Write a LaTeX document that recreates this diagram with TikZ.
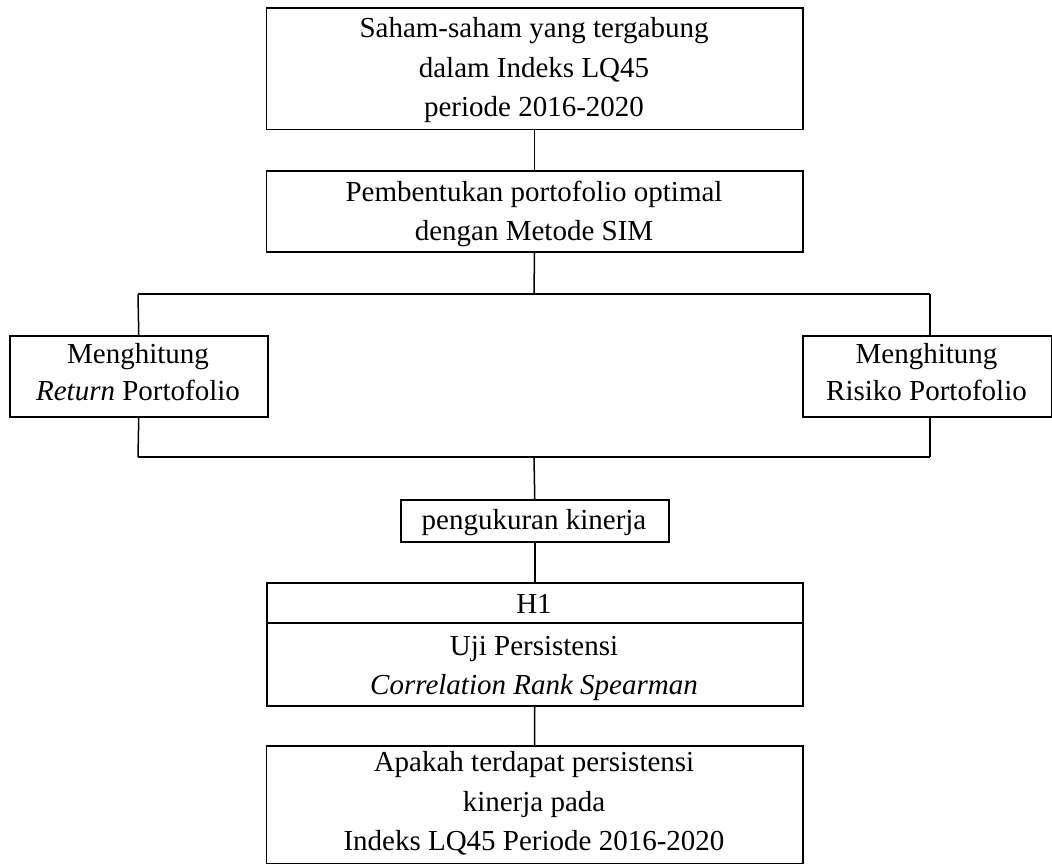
\documentclass[tikz,border=0pt]{standalone}
\usepackage{fontspec}
\setmainfont{Liberation Serif}
\begin{document}
\begin{tikzpicture}[x=1pt,y=-1pt,line width=1.5pt,
  box/.style={draw,line width=1.5pt,inner sep=0pt,anchor=north west},
  ln/.style={anchor=base,inner sep=0pt,font=\fontsize{29}{34}\selectfont},
  conn/.style={draw,line width=1.5pt}]
\useasboundingbox (0,0) rectangle (1052,864);
% boxes
\node[box,minimum width=536.5pt,minimum height=121.5pt] (b1) at (265.5,7.5) {};
\node[box,minimum width=536.5pt,minimum height=81pt] (b2) at (265.5,170) {};
\node[box,minimum width=258pt,minimum height=81pt] (L) at (9,335) {};
\node[box,minimum width=249pt,minimum height=81pt] (R) at (802,335) {};
\node[box,minimum width=268pt,minimum height=42pt] (P) at (400,499) {};
\node[box,minimum width=536pt,minimum height=123pt] (H) at (266,582) {};
\node[box,minimum width=536.5pt,minimum height=117.5pt] (F) at (265.5,745) {};
\coordinate (Hdl) at (266,623);
\coordinate (Hdr) at (802,623);
\draw[conn] (Hdl) -- (Hdr);
% texts
\node[ln] (t1a) at (534,38) {Saham-saham yang tergabung};
\node[ln] (t1b) at (534,77.5) {dalam Indeks LQ45};
\node[ln] (t1c) at (534,117) {periode 2016-2020};
\node[ln] (t2a) at (534,201) {Pembentukan portofolio optimal};
\node[ln] (t2b) at (534,240) {dengan Metode SIM};
\node[ln] (tLa) at (138,363.5) {Menghitung};
\node[ln] (tLb) at (138,400.5) {\textit{Return} Portofolio};
\node[ln] (tRa) at (926.5,363.5) {Menghitung};
\node[ln] (tRb) at (926.5,400.5) {Risiko Portofolio};
\node[ln] (tP) at (534,529) {pengukuran kinerja};
\node[ln] (tHa) at (534,613) {H1};
\node[ln] (tHb) at (534,655) {Uji Persistensi};
\node[ln] (tHc) at (534,694) {\textit{Correlation Rank Spearman}};
\node[ln] (tFa) at (534,771.5) {Apakah terdapat persistensi};
\node[ln] (tFb) at (534,811) {kinerja pada};
\node[ln] (tFc) at (534,850.5) {Indeks LQ45 Periode 2016-2020};
% connectors
\coordinate (s1) at (534,294);
\coordinate (s1l) at (138,294);
\coordinate (s1r) at (930,294);
\coordinate (rTop) at (930,335);
\coordinate (rBot) at (930,416);
\coordinate (s2) at (534,457);
\coordinate (s2l) at (138,457);
\coordinate (s2r) at (930,457);
\draw[conn] (b1.south) -- (b2.north);
\draw[conn] (b2.south) -- (s1);
\draw[conn] (s1l) -- (s1r);
\draw[conn] (s1l) -- (L.north);
\draw[conn] (s1r) -- (rTop);
\draw[conn] (L.south) -- (s2l);
\draw[conn] (rBot) -- (s2r);
\draw[conn] (s2l) -- (s2r);
\draw[conn] (s2) -- (P.north);
\draw[conn] (P.south) -- (H.north);
\draw[conn] (H.south) -- (F.north);
\end{tikzpicture}
\end{document}
